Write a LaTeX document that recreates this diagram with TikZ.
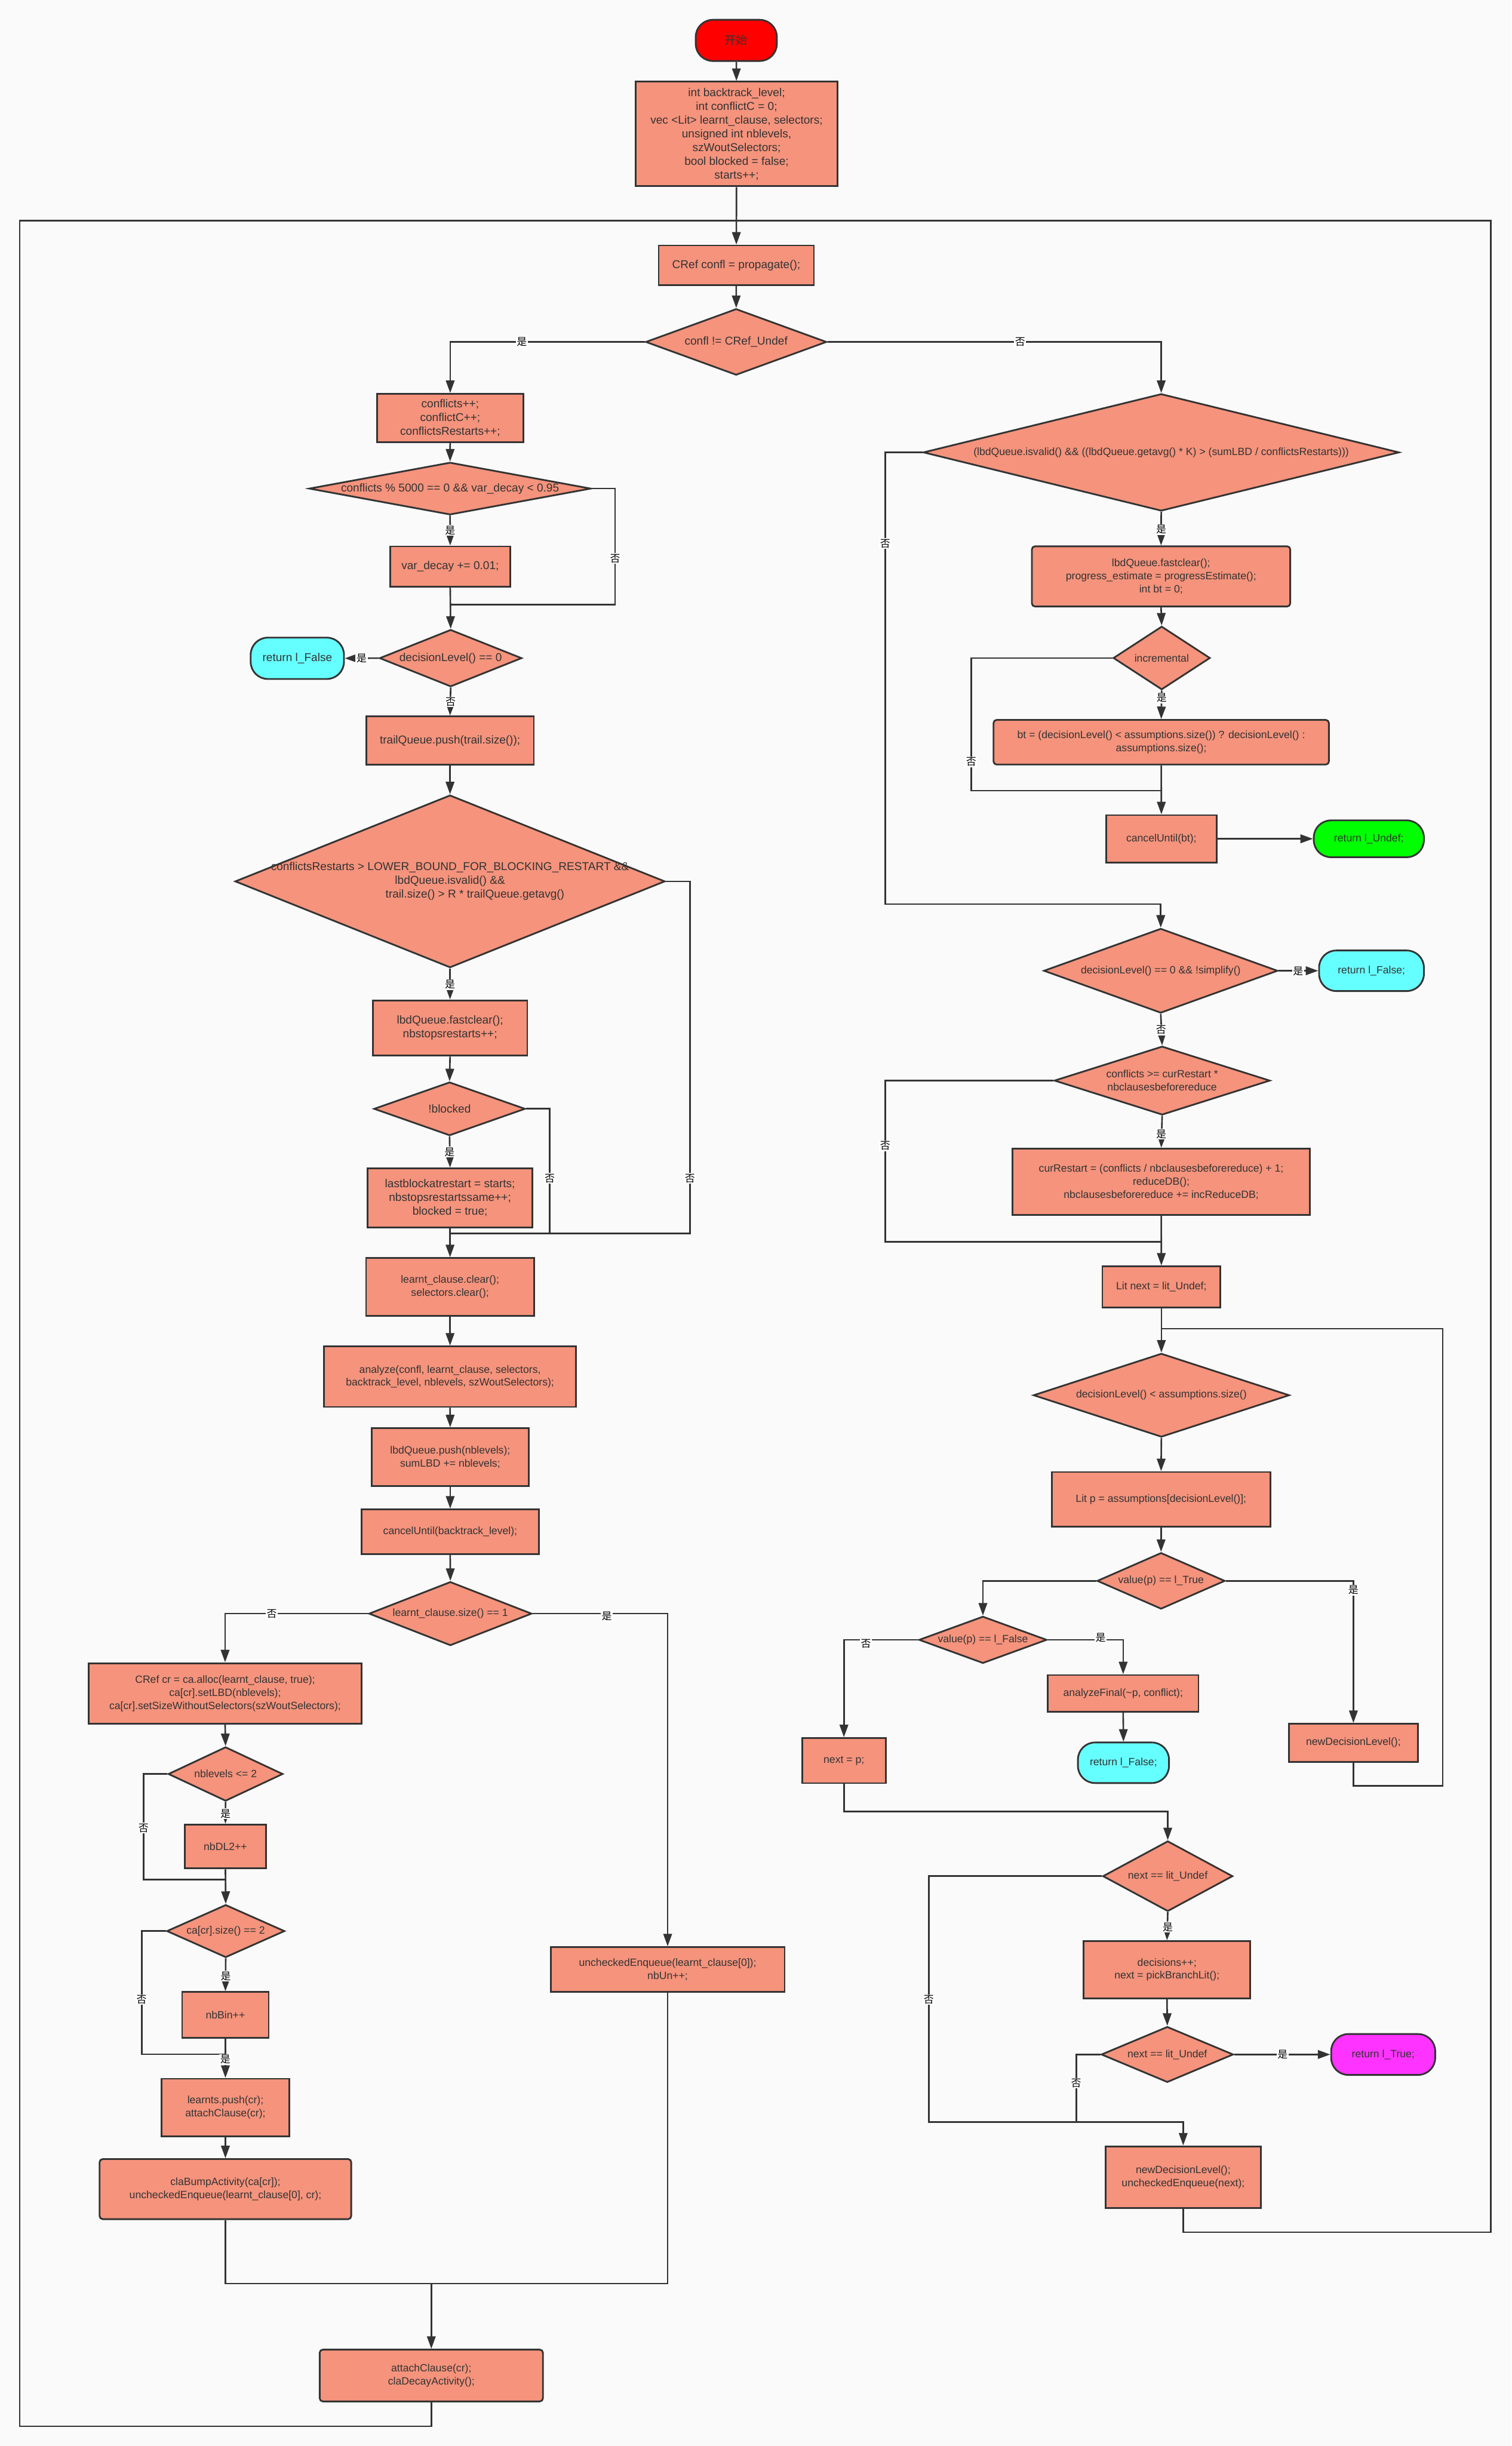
\documentclass[tikz,border=0pt]{standalone}
\usepackage{fontspec}
\setmainfont{Liberation Sans}
\newfontfamily\cjk{Noto Sans CJK SC}
\usetikzlibrary{shapes.geometric,arrows.meta}
\definecolor{bgc}{HTML}{FAFAFA}
\definecolor{sal}{HTML}{F5937C}
\definecolor{lnc}{HTML}{333333}
\definecolor{cyn}{HTML}{66FFFF}
\definecolor{grn}{HTML}{00FF00}
\definecolor{mag}{HTML}{FF33FF}
\definecolor{rd}{HTML}{FF0000}
\begin{document}
\begin{tikzpicture}[x=1pt,y=-1pt,
 txt/.style={font=\fontsize{7.3}{8.8}\selectfont, text=lnc, align=center, inner sep=0pt},
 sm/.style={font=\fontsize{6.75}{8.3}\selectfont},
 box/.style={draw=lnc, line width=1.1pt, fill=sal, rectangle, txt},
 rbox/.style={box, rounded corners=2pt},
 term/.style={draw=lnc, line width=1.1pt, rectangle, rounded corners=11pt, txt},
 dia/.style={draw=lnc, line width=1.1pt, fill=sal, diamond, inner sep=0pt},
 ln/.style={draw=lnc, line width=1pt},
 arr/.style={ln, -{Triangle[length=8pt,width=5.5pt]}},
 lbl/.style={fill=white, inner sep=0.6pt, font=\cjk\fontsize{6.5}{7}\selectfont, text=black},
]
\path[fill=bgc] (0,0) rectangle (969,1568);

% ---------- top ----------
\node[term, fill=rd, minimum width=52pt, minimum height=26.4pt, font=\cjk\fontsize{7.3}{8.8}\selectfont] (start) at (472,25.9) {开始};
\node[box, minimum width=129.7pt, minimum height=67pt] (init) at (472.2,85.9) {int backtrack\_level;\\ int conflictC = 0;\\ vec <Lit> learnt\_clause, selectors;\\ unsigned int nblevels,\\ szWoutSelectors;\\ bool blocked = false;\\ starts++;};
\node[box, minimum width=99.5pt, minimum height=25.3pt] (prop) at (472,170) {CRef confl = propagate();};
\node[dia, minimum width=116pt, minimum height=42.5pt] (d1) at (471.9,219.2) {};
\node[txt] (d1t) at (d1) {confl != CRef\_Undef};

% ---------- left column ----------
\node[box, minimum width=93.6pt, minimum height=31.1pt] (c1) at (288.6,268) {conflicts++;\\ conflictC++;\\ conflictsRestarts++;};
\node[dia, minimum width=180.7pt, minimum height=33.6pt] (d2) at (288.5,313.2) {};
\node[txt] (d2t) at (d2) {conflicts \% 5000 == 0 \&\& var\_decay < 0.95};
\node[box, minimum width=76.8pt, minimum height=25.9pt] (vd) at (288.6,363.2) {var\_decay += 0.01;};
\node[dia, minimum width=91.2pt, minimum height=36.6pt] (d3) at (288.9,421.9) {};
\node[txt] (d3t) at (d3) {decisionLevel() == 0};
\node[term, fill=cyn, minimum width=59.8pt, minimum height=26.5pt] (rf1) at (190.6,422) {return l\_False};
\node[box, minimum width=107.5pt, minimum height=31.1pt] (tq) at (288.5,474.8) {trailQueue.push(trail.size());};
\node[dia, minimum width=275.6pt, minimum height=110.6pt] (d4) at (288.5,565) {};
\node[txt] (d4t) at (d4) {conflictsRestarts > LOWER\_BOUND\_FOR\_BLOCKING\_RESTART \&\&\\ lbdQueue.isvalid() \&\&\\ \hspace*{32pt}trail.size() > R * trailQueue.getavg()};
\node[box, minimum width=99pt, minimum height=35.5pt] (bc1) at (288.5,659) {lbdQueue.fastclear();\\ nbstopsrestarts++;};
\node[dia, minimum width=97pt, minimum height=34.3pt] (d5) at (288.2,710.8) {};
\node[txt] (d5t) at (d5) {!blocked};
\node[box, minimum width=105.6pt, minimum height=37.8pt] (lb) at (288.5,767.9) {lastblockatrestart = starts;\\ nbstopsrestartssame++;\\ blocked = true;};
\node[box, sm, minimum width=107.7pt, minimum height=37.1pt] (lc) at (288.5,825) {learnt\_clause.clear();\\ selectors.clear();};
\node[box, sm, minimum width=161.5pt, minimum height=38.8pt] (an) at (288.5,882.5) {analyze(confl, learnt\_clause, selectors,\\ backtrack\_level, nblevels, szWoutSelectors);};
\node[box, sm, minimum width=100.6pt, minimum height=37.2pt] (lq) at (288.6,934.1) {lbdQueue.push(nblevels);\\ sumLBD += nblevels;};
\node[box, sm, minimum width=113.5pt, minimum height=28.6pt] (cu) at (288.6,981.9) {cancelUntil(backtrack\_level);};
\node[dia, minimum width=104.4pt, minimum height=40.9pt] (d6) at (288.7,1034.4) {};
\node[txt, sm] (d6t) at (d6) {learnt\_clause.size() == 1};
\node[box, sm, minimum width=175.1pt, minimum height=38.9pt] (cr) at (144.3,1085.6) {CRef cr = ca.alloc(learnt\_clause, true);\\ ca[cr].setLBD(nblevels);\\ ca[cr].setSizeWithoutSelectors(szWoutSelectors);};
\node[dia, minimum width=73.5pt, minimum height=34.7pt] (d7) at (144.6,1137.2) {};
\node[txt, sm] (d7t) at (d7) {nblevels <= 2};
\node[box, sm, minimum width=52.1pt, minimum height=28.1pt] (dl2) at (144.5,1183.7) {nbDL2++};
\node[dia, minimum width=75.6pt, minimum height=33.8pt] (d8) at (144.7,1237.9) {};
\node[txt, sm] (d8t) at (d8) {ca[cr].size() == 2};
\node[box, sm, minimum width=55.5pt, minimum height=29.2pt] (bin) at (144.5,1291.6) {nbBin++};
\node[box, sm, minimum width=81.7pt, minimum height=36.9pt] (lp) at (144.5,1351) {learnts.push(cr);\\ attachClause(cr);};
\node[rbox, sm, minimum width=161.3pt, minimum height=38.5pt] (cb) at (144.5,1403.3) {claBumpActivity(ca[cr]);\\ uncheckedEnqueue(learnt\_clause[0], cr);};
\node[box, sm, minimum width=150pt, minimum height=28.8pt] (ue) at (428,1262.6) {uncheckedEnqueue(learnt\_clause[0]);\\ nbUn++;};
\node[rbox, sm, minimum width=143.1pt, minimum height=33.2pt] (ac) at (276.5,1522.8) {attachClause(cr);\\ claDecayActivity();};

% ---------- right column ----------
\node[dia, minimum width=305.1pt, minimum height=75.1pt] (bd) at (744.4,290) {};
\node[txt, sm] (bdt) at (bd) {(lbdQueue.isvalid() \&\& ((lbdQueue.getavg() * K) > (sumLBD / conflictsRestarts)))};
\node[rbox, sm, minimum width=165.6pt, minimum height=38.6pt] (rb1) at (744.3,369.5) {lbdQueue.fastclear();\\ progress\_estimate = progressEstimate();\\ int bt = 0;};
\node[dia, minimum width=62.1pt, minimum height=40.6pt] (d10) at (744.7,421.8) {};
\node[txt, sm] (d10t) at (d10) {incremental};
\node[rbox, sm, minimum width=215pt, minimum height=28.6pt] (bt) at (744.4,475.8) {bt = (decisionLevel() < assumptions.size()) ? decisionLevel() :\\ assumptions.size();};
\node[box, sm, minimum width=70.9pt, minimum height=30.3pt] (cub) at (744.5,537.7) {cancelUntil(bt);};
\node[term, sm, fill=grn, minimum width=70.6pt, minimum height=23.6pt] (ru) at (877.5,537.7) {return l\_Undef;};
\node[dia, minimum width=150pt, minimum height=54.2pt] (d9) at (744.1,622.3) {};
\node[txt, sm] (d9t) at (d9) {decisionLevel() == 0 \&\& !simplify()};
\node[term, sm, fill=cyn, minimum width=67.2pt, minimum height=26pt] (rf2) at (879.2,622.3) {return l\_False;};
\node[dia, minimum width=138.3pt, minimum height=44pt] (d11) at (745,692.7) {};
\node[txt, sm] (d11t) at (d11) {conflicts >= curRestart *\\ nbclausesbeforereduce};
\node[box, sm, minimum width=190.9pt, minimum height=42.6pt] (crb) at (744.4,757.6) {curRestart = (conflicts / nbclausesbeforereduce) + 1;\\ reduceDB();\\ nbclausesbeforereduce += incReduceDB;};
\node[box, sm, minimum width=75.7pt, minimum height=26.4pt] (lnx) at (744.5,825) {Lit next = lit\_Undef;};
\node[dia, minimum width=164.1pt, minimum height=53.6pt] (d12) at (744.5,894.4) {};
\node[txt, sm] (d12t) at (d12) {decisionLevel() < assumptions.size()};
\node[box, sm, minimum width=140.2pt, minimum height=35pt] (lpb) at (744.3,961.1) {Lit p = assumptions[decisionLevel()];};
\node[dia, minimum width=82pt, minimum height=36.1pt] (d13) at (744.3,1013.4) {};
\node[txt, sm] (d13t) at (d13) {value(p) == l\_True};
\node[dia, minimum width=82pt, minimum height=30.1pt] (d14) at (630.1,1051.2) {};
\node[txt, sm] (d14t) at (d14) {value(p) == l\_False};
\node[box, sm, minimum width=96.6pt, minimum height=23.6pt] (af) at (720,1085.6) {analyzeFinal(\textasciitilde p, conflict);};
\node[term, sm, fill=cyn, minimum width=58.4pt, minimum height=26pt] (rf3) at (720.2,1130) {return l\_False;};
\node[box, sm, minimum width=53.6pt, minimum height=28.9pt] (np) at (541,1128.6) {next = p;};
\node[box, sm, minimum width=82.9pt, minimum height=24.3pt] (nd) at (867.6,1117.2) {newDecisionLevel();};
\node[dia, minimum width=83.3pt, minimum height=45.1pt] (d15) at (748.6,1202.7) {};
\node[txt, sm] (d15t) at (d15) {next == lit\_Undef};
\node[box, sm, minimum width=106.8pt, minimum height=36.7pt] (dec) at (748.1,1262.7) {decisions++;\\ next = pickBranchLit();};
\node[dia, minimum width=84.7pt, minimum height=35.7pt] (d16) at (748.3,1317) {};
\node[txt, sm] (d16t) at (d16) {next == lit\_Undef};
\node[term, sm, fill=mag, minimum width=66.7pt, minimum height=26.2pt] (rt) at (886.7,1317) {return l\_True;};
\node[box, sm, minimum width=99.4pt, minimum height=39.7pt] (nl) at (758.5,1395.7) {newDecisionLevel();\\ uncheckedEnqueue(next);};

% ---------- coordinates ----------
\coordinate (topm) at (472,141.4);
\coordinate (k2) at (394.3,387.6);  \coordinate (m2) at (288.6,387.6);
\coordinate (k4) at (442.3,790.6);  \coordinate (m4) at (288.5,790.6);
\coordinate (k5) at (352.4,790.6);
\coordinate (k7) at (92,1205);      \coordinate (m7) at (144.5,1205);
\coordinate (k8) at (90.8,1316.8);  \coordinate (m8) at (144.5,1316.8);
\coordinate (mA) at (276.5,1463.9);
\coordinate (kA1) at (12.6,1555.3); \coordinate (kA2) at (12.6,141.4);
\coordinate (kb) at (567.5,579.6);
\coordinate (k10) at (622.6,506.9); \coordinate (m10) at (744.5,506.9);
\coordinate (k11) at (567.5,796);   \coordinate (m11) at (744.5,796);
\coordinate (kn1) at (924.9,1144.9); \coordinate (kn2) at (924.9,851.7); \coordinate (mn) at (744.5,851.7);
\coordinate (kp) at (748.6,1161.2);
\coordinate (k15) at (595.4,1360.2);
\coordinate (k16) at (689.9,1360.2);
\coordinate (kB1) at (955.6,1431);  \coordinate (kB2) at (955.6,141.4);

% ---------- connectors ----------
\draw[arr] (start) -- (init);
\draw[arr] (init) -- (prop);
\draw[arr] (prop) -- (d1);
\draw[arr] (d1.west) -| (c1.north);
\draw[arr] (d1.east) -| (bd.north);
\draw[arr] (c1) -- (d2);
\draw[arr] (d2.south) -- (vd.north);
\draw[ln] (d2.east) -| (k2) -- (m2);
\draw[arr] (vd.south) -- (d3.north);
\draw[arr] (d3.west) -- (rf1.east);
\draw[arr] (d3.south) -- (tq.north);
\draw[arr] (tq.south) -- (d4.north);
\draw[arr] (d4.south) -- (bc1.north);
\draw[ln] (d4.east) -| (k4) -- (m4);
\draw[arr] (bc1.south) -- (d5.north);
\draw[arr] (d5.south) -- (lb.north);
\draw[ln] (d5.east) -| (k5);
\draw[arr] (lb.south) -- (lc.north);
\draw[arr] (lc.south) -- (an.north);
\draw[arr] (an.south) -- (lq.north);
\draw[arr] (lq.south) -- (cu.north);
\draw[arr] (cu.south) -- (d6.north);
\draw[arr] (d6.west) -| (cr.north);
\draw[arr] (d6.east) -| (ue.north);
\draw[arr] (cr.south) -- (d7.north);
\draw[arr] (d7.south) -- (dl2.north);
\draw[ln] (d7.west) -| (k7) -- (m7);
\draw[arr] (dl2.south) -- (d8.north);
\draw[arr] (d8.south) -- (bin.north);
\draw[ln] (d8.west) -| (k8) -- (m8);
\draw[arr] (bin.south) -- (lp.north);
\draw[arr] (lp.south) -- (cb.north);
\draw[ln] (cb.south) |- (mA);
\draw[ln] (ue.south) |- (mA);
\draw[arr] (mA) -- (ac.north);
\draw[ln] (ac.south) |- (kA1) -- (kA2) -- (topm);

\draw[arr] (bd.south) -- (rb1.north);
\draw[arr] (bd.west) -| (kb) -| (d9.north);
\draw[arr] (rb1.south) -- (d10.north);
\draw[arr] (d10.south) -- (bt.north);
\draw[ln] (d10.west) -| (k10) -- (m10);
\draw[arr] (bt.south) -- (cub.north);
\draw[arr] (cub.east) -- (ru.west);
\draw[arr] (d9.east) -- (rf2.west);
\draw[arr] (d9.south) -- (d11.north);
\draw[arr] (d11.south) -- (crb.north);
\draw[ln] (d11.west) -| (k11) -- (m11);
\draw[arr] (crb.south) -- (lnx.north);
\draw[arr] (lnx.south) -- (d12.north);
\draw[arr] (d12.south) -- (lpb.north);
\draw[arr] (lpb.south) -- (d13.north);
\draw[arr] (d13.west) -| (d14.north);
\draw[arr] (d13.east) -| (nd.north);
\draw[arr] (d14.west) -| (np.north);
\draw[arr] (d14.east) -| (af.north);
\draw[arr] (af.south) -- (rf3.north);
\draw[arr] (np.south) |- (kp) -- (d15.north);
\draw[ln] (nd.south) |- (kn1) -- (kn2) -- (mn);
\draw[arr] (d15.south) -- (dec.north);
\draw[arr] (d15.west) -| (k15) -| (nl.north);
\draw[arr] (dec.south) -- (d16.north);
\draw[arr] (d16.east) -- (rt.west);
\draw[ln] (d16.west) -| (k16);
\draw[ln] (nl.south) |- (kB1) -- (kB2) -- (topm);

% ---------- labels ----------
\node[lbl] (l1) at (334.5,219.2) {是};
\node[lbl] (l2) at (654,219.2) {否};
\node[lbl] (l3) at (288.6,340) {是};
\node[lbl] (l4) at (394.3,358) {否};
\node[lbl] (l5) at (231.8,421.9) {是};
\node[lbl] (l6) at (288.9,450) {否};
\node[lbl] (l7) at (288.5,631.2) {是};
\node[lbl] (l8) at (442.3,755.3) {否};
\node[lbl] (l9) at (288.2,738.4) {是};
\node[lbl] (l10) at (352.4,755.3) {否};
\node[lbl] (l11) at (174.2,1034.4) {否};
\node[lbl] (l12) at (389,1036) {是};
\node[lbl] (l13) at (144.6,1162.7) {是};
\node[lbl] (l14) at (92,1171.8) {否};
\node[lbl] (l15) at (144.7,1266.8) {是};
\node[lbl] (l16) at (90.8,1281.8) {否};
\node[lbl] (l17) at (144.5,1320.2) {是};
\node[lbl] (l18) at (744.4,339.5) {是};
\node[lbl] (l19) at (567.5,348.5) {否};
\node[lbl] (l20) at (744.7,447.4) {是};
\node[lbl] (l21) at (622.6,488.4) {否};
\node[lbl] (l22) at (832.2,622.6) {是};
\node[lbl] (l23) at (744.3,660.2) {否};
\node[lbl] (l24) at (744.4,727) {是};
\node[lbl] (l25) at (567.5,734.5) {否};
\node[lbl] (l26) at (867.6,1019.3) {是};
\node[lbl] (l27) at (555.1,1053.7) {否};
\node[lbl] (l28) at (705.6,1049.9) {是};
\node[lbl] (l29) at (748.6,1235.3) {是};
\node[lbl] (l30) at (595.4,1281.8) {否};
\node[lbl] (l31) at (822.2,1317) {是};
\node[lbl] (l32) at (689.9,1335.4) {否};
\end{tikzpicture}
\end{document}
